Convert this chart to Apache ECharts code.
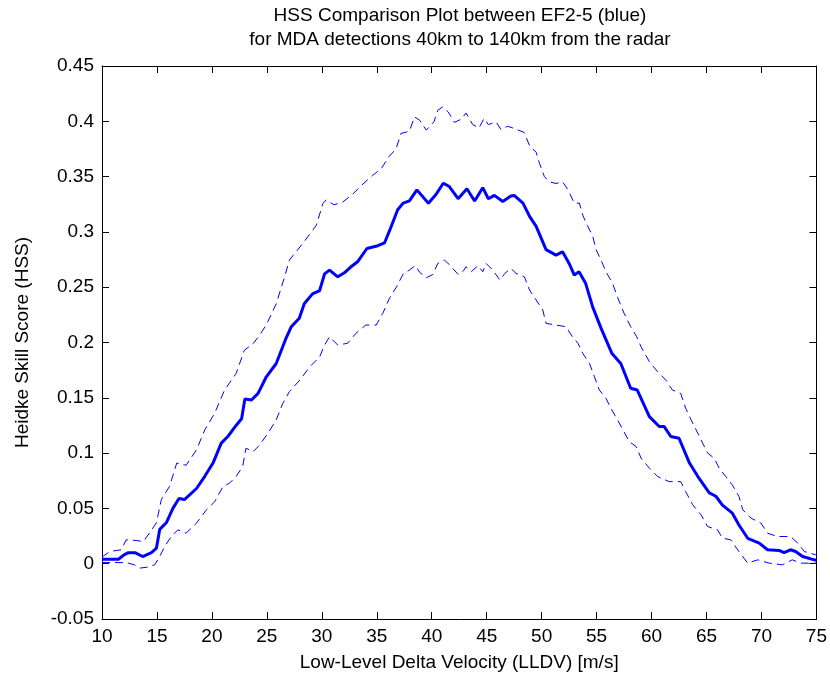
<!DOCTYPE html>
<html>
<head>
<meta charset="utf-8">
<script src="https://cdn.jsdelivr.net/npm/echarts@6/dist/echarts.min.js"></script>
<style>
html,body{margin:0;padding:0;background:#fff;}
#chart{width:830px;height:682px;}
</style>
</head>
<body>
<div id="chart"></div>
<script>
// Low-Level Delta Velocity (m/s) and HSS values
var centerX = [10,11.5,12.0,12.4,13.0,13.7,14.5,14.95,15.25,15.85,16.45,17.0,17.5,18.6,19.35,20.1,20.85,21.45,22.2,22.7,23.0,23.6,24.2,24.95,25.85,26.75,27.2,27.95,28.4,29.15,29.8,30.25,30.7,31.45,32.05,32.6,33.25,34.1,35.1,35.7,36.2,36.9,37.4,37.97,38.65,39.7,40.4,41.05,41.6,42.4,43.2,43.9,44.64,45.15,45.7,46.46,47.2,47.5,48.3,48.9,49.5,50.4,51.3,51.9,52.5,52.97,53.4,54.0,54.65,55.4,56.4,57.2,58.1,58.7,59.8,60.7,61.15,61.75,62.5,63.45,64.2,65.25,65.85,66.45,67.35,67.95,68.75,69.8,70.55,71.6,72.05,72.65,73.1,73.75,74.8,75];
var centerY = [0.004,0.004,0.008,0.010,0.010,0.0065,0.010,0.014,0.031,0.037,0.050,0.059,0.058,0.068,0.079,0.091,0.109,0.115,0.125,0.131,0.149,0.148,0.154,0.169,0.181,0.204,0.214,0.222,0.235,0.244,0.247,0.262,0.2655,0.2594,0.263,0.268,0.273,0.285,0.2875,0.290,0.302,0.320,0.326,0.328,0.338,0.326,0.334,0.344,0.341,0.330,0.339,0.328,0.340,0.330,0.333,0.3275,0.3325,0.333,0.326,0.314,0.305,0.284,0.279,0.282,0.2715,0.261,0.264,0.2535,0.232,0.213,0.190,0.181,0.1586,0.157,0.133,0.124,0.124,0.115,0.1134,0.091,0.079,0.064,0.061,0.053,0.0457,0.035,0.023,0.0186,0.0126,0.012,0.010,0.0126,0.011,0.0065,0.0035,0.003];

var upperX = [10,10.7,11.75,12.2,13.1,13.75,14.2,14.95,15.4,16.15,16.8,17.65,18.6,19.35,20.25,21.15,22.2,22.95,23.75,24.3,24.95,25.85,26.6,27.05,28.3,29.5,30.1,30.4,31.1,31.9,32.8,33.6,34.6,35.4,36.1,36.75,37.2,37.97,38.43,38.9,39.5,40.2,40.55,41.0,41.5,42.06,42.7,43.12,43.73,44.3,44.75,45.15,45.85,46.3,46.9,47.5,48.4,48.9,49.5,49.8,50.25,50.7,51.3,51.9,52.4,52.97,53.43,53.75,54.05,54.65,54.95,55.4,55.85,56.45,56.9,57.5,58.1,58.65,59.05,59.8,60.55,61.3,61.9,62.65,63.1,63.6,64.05,64.65,65.1,65.7,66.15,66.75,67.35,67.95,68.3,69.05,69.95,70.55,71.45,72.65,73.3,73.9,74.95,75];
var upperY = [0.006,0.011,0.0126,0.0216,0.021,0.020,0.026,0.037,0.058,0.070,0.091,0.089,0.103,0.121,0.136,0.157,0.172,0.193,0.199,0.206,0.216,0.235,0.259,0.2745,0.290,0.306,0.3257,0.329,0.3245,0.327,0.334,0.342,0.351,0.357,0.368,0.375,0.389,0.391,0.404,0.401,0.392,0.3995,0.410,0.413,0.4085,0.399,0.402,0.4075,0.397,0.394,0.4025,0.397,0.3995,0.3925,0.3955,0.3935,0.390,0.378,0.372,0.362,0.350,0.3453,0.3438,0.3453,0.338,0.326,0.326,0.315,0.308,0.296,0.284,0.2745,0.264,0.2535,0.241,0.2264,0.2143,0.2052,0.196,0.1827,0.1736,0.166,0.157,0.154,0.1406,0.130,0.121,0.109,0.100,0.0954,0.0864,0.0788,0.0713,0.0607,0.0487,0.0412,0.0367,0.0276,0.0246,0.0246,0.0186,0.011,0.008,0.008];

var lowerX = [10,12.2,12.95,13.45,14.2,14.8,15.25,15.7,16.3,16.9,17.65,18.6,19.5,20.25,21.0,21.6,22.2,22.8,23.1,23.75,24.35,25.1,25.85,26.45,27.05,28.0,28.9,29.8,30.25,30.7,31.45,32.35,33.1,34.0,34.95,35.55,36.15,36.8,37.4,37.97,38.5,38.9,39.5,40.1,40.55,41.15,41.6,42.4,42.9,43.12,43.6,44.2,44.64,44.95,45.55,46.2,46.65,47.2,47.67,48.43,48.9,49.5,50.1,50.4,51.3,52.2,52.8,53.3,53.75,54.35,54.8,55.25,55.85,56.3,56.9,57.4,57.97,58.6,59.05,59.8,60.55,61.6,62.65,63.1,63.75,64.5,65.1,66.0,66.45,67.2,67.95,68.75,69.65,70.7,71.9,72.8,73.6,75];
var lowerY = [0.001,0.001,-0.001,-0.004,-0.003,-0.001,0.0065,0.0155,0.0246,0.0306,0.0276,0.0367,0.0487,0.056,0.0697,0.0728,0.0788,0.0878,0.1044,0.1013,0.1074,0.118,0.130,0.145,0.1556,0.166,0.178,0.187,0.1977,0.2052,0.1977,0.1993,0.2083,0.2158,0.2158,0.2264,0.240,0.2504,0.262,0.2655,0.2695,0.2635,0.2585,0.2615,0.2715,0.2745,0.2705,0.2615,0.265,0.2685,0.264,0.2695,0.264,0.2715,0.2655,0.2565,0.2625,0.267,0.2625,0.2594,0.2474,0.2384,0.2294,0.2173,0.2158,0.2143,0.2052,0.1993,0.190,0.1812,0.169,0.157,0.1496,0.1406,0.130,0.121,0.1104,0.1059,0.0954,0.0864,0.0788,0.0742,0.0742,0.0652,0.0532,0.0442,0.0336,0.0306,0.0231,0.0216,0.011,0.0005,0.0035,0.0005,-0.001,0.0035,0.0005,0.0005];

var titleLines = ['HSS Comparison Plot between EF2-5 (blue)', 'for MDA detections 40km to 140km from the radar'];
var xName = 'Low-Level Delta Velocity (LLDV) [m/s]';
var yName = 'Heidke Skill Score (HSS)';

function pairs(xs, ys) { return xs.map(function (x, i) { return [x, ys[i]]; }); }

var FONT = 'Liberation Sans, Arial, sans-serif';
var FS = 19;
function axisCommon() {
  return {
    type: 'value',
    axisLine: { show: true, onZero: false, lineStyle: { color: '#000', width: 1 } },
    axisTick: { show: true, inside: true, length: 7, lineStyle: { color: '#000', width: 1 } },
    splitLine: { show: false }
  };
}

var chart = echarts.init(document.getElementById('chart'), null, { renderer: 'canvas' });
chart.setOption({
  animation: false,
  backgroundColor: '#fff',
  grid: { left: 102, right: 12, top: 66, bottom: 63 },
  graphic: [
    { type: 'text', x: 460, y: 16, style: { text: titleLines[0], font: FS + 'px ' + FONT, fill: '#000', textAlign: 'center', textVerticalAlign: 'middle' } },
    { type: 'text', x: 460, y: 40, style: { text: titleLines[1], font: FS + 'px ' + FONT, fill: '#000', textAlign: 'center', textVerticalAlign: 'middle' } }
  ],
  xAxis: [
    Object.assign(axisCommon(), {
      min: 10, max: 75, interval: 5, position: 'bottom', gridIndex: 0,
      name: xName, nameLocation: 'middle', nameGap: 34,
      nameTextStyle: { color: '#000', fontSize: FS, fontFamily: FONT },
      axisLabel: { color: '#000', fontSize: FS, fontFamily: FONT, margin: 8 }
    }),
    Object.assign(axisCommon(), {
      min: 10, max: 75, interval: 5, position: 'top', gridIndex: 0,
      axisLabel: { show: false }
    })
  ],
  yAxis: [
    Object.assign(axisCommon(), {
      min: -0.05, max: 0.45, interval: 0.05, position: 'left', gridIndex: 0,
      name: yName, nameLocation: 'middle', nameGap: 70,
      nameTextStyle: { color: '#000', fontSize: FS, fontFamily: FONT },
      axisLabel: { color: '#000', fontSize: FS, fontFamily: FONT, margin: 8,
        formatter: function (v) { return String(+v.toFixed(2)); } }
    }),
    Object.assign(axisCommon(), {
      min: -0.05, max: 0.45, interval: 0.05, position: 'right', gridIndex: 0,
      axisLabel: { show: false }
    })
  ],
  series: [
    { type: 'line', name: 'upper', data: pairs(upperX, upperY), showSymbol: false, symbol: 'none',
      lineStyle: { color: '#0000ff', width: 1, type: [8, 5] }, z: 3 },
    { type: 'line', name: 'lower', data: pairs(lowerX, lowerY), showSymbol: false, symbol: 'none',
      lineStyle: { color: '#0000ff', width: 1, type: [8, 5] }, z: 3 },
    { type: 'line', name: 'HSS', data: pairs(centerX, centerY), showSymbol: false, symbol: 'none',
      lineStyle: { color: '#0000ff', width: 3 }, z: 4 }
  ]
});
</script>
</body>
</html>
